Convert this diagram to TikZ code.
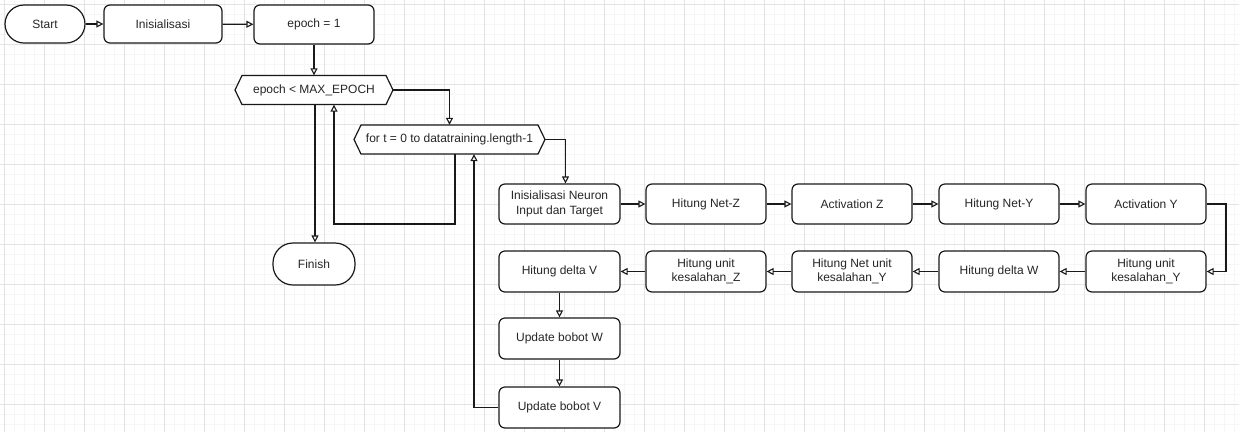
\documentclass[tikz,border=0pt]{standalone}
\usepackage{fontspec}
\setmainfont{Liberation Sans}
\usetikzlibrary{arrows.meta,calc}
\begin{document}
\begin{tikzpicture}[x=1pt,y=-1pt,
  every node/.style={font=\fontsize{12}{14.5}\selectfont, text=black!85},
  box/.style={draw=black!90, line width=1.2pt, rounded corners=6pt, minimum width=120pt, minimum height=40pt, align=center, inner sep=2pt, fill=white},
  term/.style={box, rounded corners=19pt, minimum width=80pt, minimum height=38pt},
  hexn/.style={minimum height=29pt, inner sep=0pt},
  hexline/.style={draw=black!90, line width=1.2pt, fill=white, line join=round},
  arr/.style={draw=black!90, line width=1.1pt, -{Triangle[open,length=7pt,width=7pt]}},
  minorgrid/.style={draw=gray!7, line width=0.8pt},
  majorgrid/.style={draw=gray!22, line width=0.8pt}]
\useasboundingbox (0,0) rectangle (1239,432);
\fill[white] (0,0) rectangle (1239,432);
% grid
\foreach \x in {4,14,...,1239} \draw[minorgrid] (\x,0) -- (\x,432);
\foreach \y in {4,14,...,432} \draw[minorgrid] (0,\y) -- (1239,\y);
\foreach \x in {4,44,...,1239} \draw[majorgrid] (\x,0) -- (\x,432);
\foreach \y in {4,44,...,432} \draw[majorgrid] (0,\y) -- (1239,\y);

% hexagon outlines
\draw[hexline] (235,90) -- (242,75.5) -- (386,75.5) -- (393,90) -- (386,104.5) -- (242,104.5) -- cycle;
\draw[hexline] (354,139.5) -- (361,125) -- (538,125) -- (545,139.5) -- (538,154) -- (361,154) -- cycle;

% nodes
\node[term] (start) at (45,24) {Start};
\node[box, minimum width=118pt, minimum height=38pt] (init) at (163,24) {Inisialisasi};
\node[box, minimum height=39pt] (ep1) at (314,24.5) {epoch = 1};
\node[hexn, minimum width=158pt] (emax) at (314,90) {epoch < MAX\_EPOCH};
\node[hexn, minimum width=191pt] (for) at (449.5,139.5) {for t = 0 to datatraining.length-1};
\node[term, minimum width=82pt, minimum height=42pt, rounded corners=20pt] (finish) at (314,264) {Finish};

\node[box, minimum width=121pt] (inn) at (559.5,204) {Inisialisasi Neuron\\Input dan Target};
\node[box] (hz) at (706,204) {Hitung Net-Z};
\node[box] (az) at (852,204) {Activation Z};
\node[box] (hy) at (999,204) {Hitung Net-Y};
\node[box] (ay) at (1146,204) {Activation Y};

\node[box, minimum height=41pt] (huy) at (1146,271.5) {Hitung unit\\kesalahan\_Y};
\node[box, minimum height=41pt] (hdw) at (999,271.5) {Hitung delta W};
\node[box, minimum height=41pt] (hnuy) at (852,271.5) {Hitung Net unit\\kesalahan\_Y};
\node[box, minimum height=41pt] (huz) at (706,271.5) {Hitung unit\\kesalahan\_Z};
\node[box, minimum width=121pt, minimum height=41pt] (hdv) at (559.5,271.5) {Hitung delta V};

\node[box, minimum width=121pt, minimum height=41pt] (updw) at (559.5,338.5) {Update bobot W};
\node[box, minimum width=121pt, minimum height=41pt] (updv) at (559.5,407.5) {Update bobot V};

% helper coordinates
\coordinate (lp) at (400,224);
\coordinate (rr) at (1226,240);

% connectors
\draw[arr] (start) -- (init);
\draw[arr] (init) -- (ep1);
\draw[arr] (ep1) -- (emax);
\draw[arr] (emax.east) -| (for.north);
\draw[arr] (for.east) -| ([xshift=6pt]inn.north);
\draw[arr] ([xshift=5.5pt]for.south) |- (lp) -| ([xshift=20pt]emax.south);
\draw[arr] ([xshift=1pt]emax.south) -- ([xshift=1pt]finish.north);
\draw[arr] (updv.west) -| ([xshift=24.5pt]for.south);

\draw[arr] (inn) -- (hz);
\draw[arr] (hz) -- (az);
\draw[arr] (az) -- (hy);
\draw[arr] (hy) -- (ay);
\draw[arr] (ay.east) -| (rr) |- (huy.east);
\draw[arr] (huy) -- (hdw);
\draw[arr] (hdw) -- (hnuy);
\draw[arr] (hnuy) -- (huz);
\draw[arr] (huz) -- (hdv);
\draw[arr] (hdv) -- (updw);
\draw[arr] (updw) -- (updv);
\end{tikzpicture}
\end{document}
